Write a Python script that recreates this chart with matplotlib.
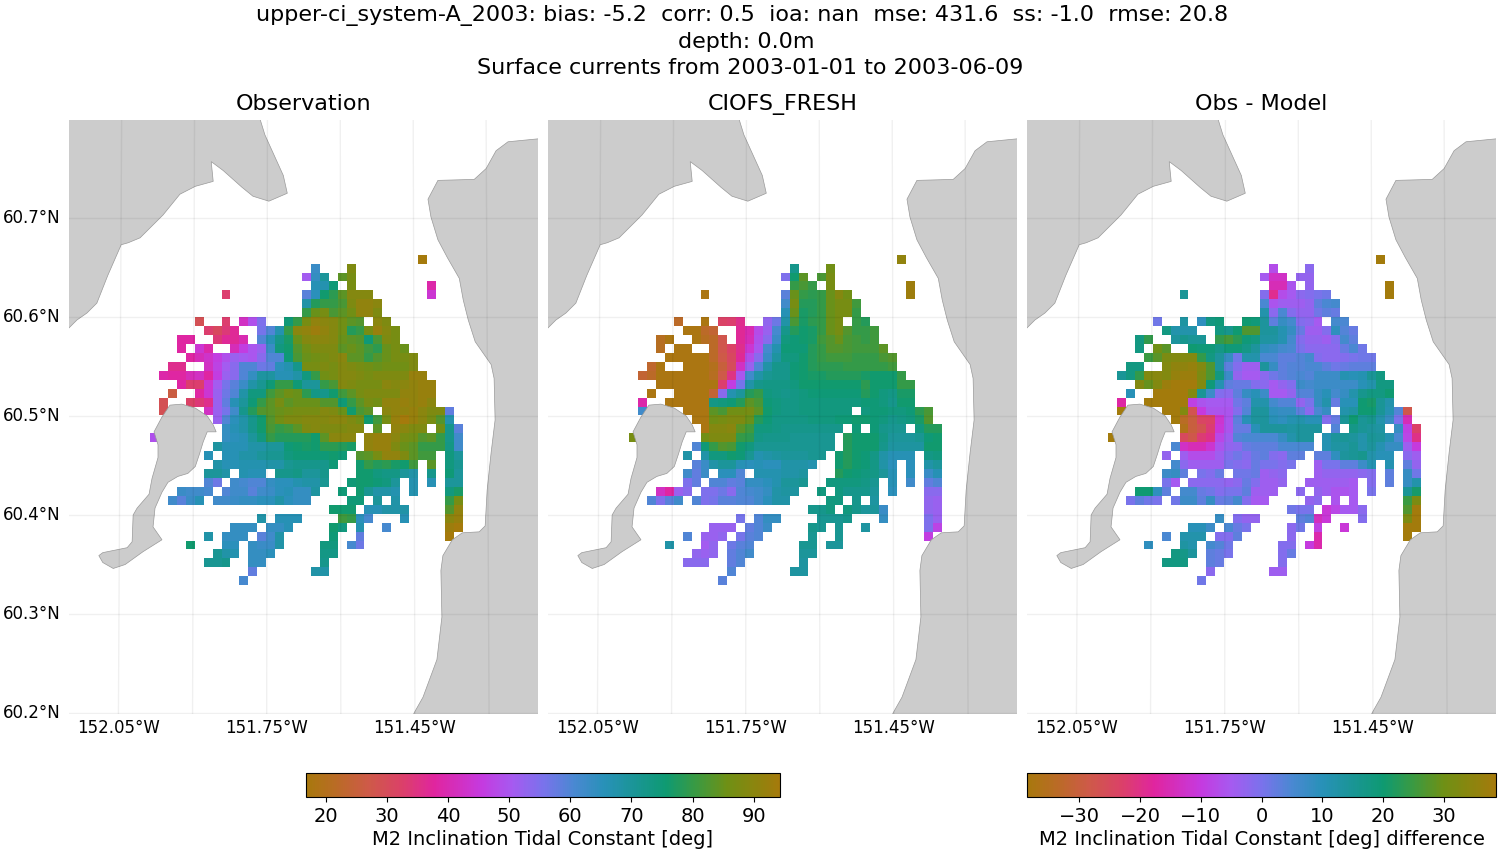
import numpy as np
import matplotlib
matplotlib.use("Agg")
import matplotlib.pyplot as plt
from matplotlib.colors import LinearSegmentedColormap
from matplotlib.patches import Polygon

# cell values per grid row, {column: value}
obs_rows = [
    {30: 94},
    {18: 63, 22: 88},
    {17: 51, 18: 64, 19: 70, 21: 84, 22: 87},
    {18: 66, 19: 67, 20: 75, 22: 87, 31: 39},
    {8: 33, 17: 59, 18: 65, 19: 76, 20: 79, 21: 84, 22: 89, 23: 89, 24: 89, 31: 44},
    {17: 68, 18: 78, 19: 80, 20: 80, 21: 82, 22: 88, 23: 91, 24: 91, 25: 90},
    {17: 80, 18: 85, 19: 87, 20: 82, 21: 84, 22: 86, 23: 91, 24: 91, 25: 88},
    {5: 29, 8: 33, 10: 42, 11: 49, 12: 55, 15: 75, 16: 80, 17: 87, 18: 91, 19: 90, 20: 89, 21: 86, 22: 84, 23: 83, 25: 90, 26: 88},
    {6: 33, 7: 31, 8: 34, 9: 37, 12: 56, 13: 60, 14: 67, 15: 80, 16: 90, 17: 91, 18: 93, 19: 91, 20: 89, 21: 86, 22: 78, 23: 80, 24: 87, 25: 92, 26: 89, 27: 87},
    {3: 38, 4: 38, 7: 34, 8: 37, 9: 37, 10: 40, 12: 60, 13: 66, 14: 72, 15: 77, 16: 85, 17: 89, 18: 90, 19: 90, 20: 89, 21: 85, 22: 84, 23: 83, 24: 75, 25: 82, 26: 88, 27: 87},
    {3: 38, 5: 44, 6: 39, 9: 41, 10: 46, 11: 50, 12: 52, 13: 63, 14: 74, 15: 76, 16: 83, 17: 86, 18: 88, 19: 88, 20: 88, 21: 84, 22: 85, 23: 84, 24: 81, 25: 79, 26: 85, 27: 87, 28: 85},
    {4: 38, 5: 41, 6: 43, 7: 46, 8: 49, 9: 52, 10: 51, 11: 50, 12: 54, 13: 60, 14: 60, 15: 75, 16: 82, 17: 85, 18: 86, 19: 87, 20: 88, 21: 90, 22: 84, 23: 84, 24: 80, 25: 83, 26: 85, 27: 87, 28: 87, 29: 88},
    {2: 36, 3: 36, 6: 42, 7: 47, 8: 51, 9: 54, 10: 60, 11: 60, 12: 57, 13: 58, 14: 65, 15: 67, 16: 72, 17: 87, 18: 87, 19: 88, 20: 87, 21: 89, 22: 88, 23: 87, 24: 86, 25: 85, 26: 86, 27: 86, 28: 86, 29: 88},
    {1: 39, 2: 38, 3: 38, 4: 41, 5: 42, 6: 38, 7: 46, 8: 52, 9: 54, 10: 60, 11: 64, 12: 69, 13: 69, 14: 66, 15: 66, 16: 68, 17: 74, 18: 80, 19: 86, 20: 87, 21: 89, 22: 89, 23: 88, 24: 87, 25: 88, 26: 88, 27: 88, 28: 88, 29: 92, 30: 92},
    {3: 38, 4: 33, 5: 33, 6: 44, 7: 51, 8: 56, 9: 59, 10: 63, 11: 68, 12: 71, 13: 75, 14: 80, 15: 80, 16: 75, 17: 70, 18: 70, 19: 80, 20: 82, 21: 89, 22: 88, 23: 87, 24: 87, 25: 87, 26: 90, 27: 89, 28: 90, 29: 91, 30: 92, 31: 92},
    {2: 26, 5: 38, 6: 44, 7: 52, 8: 57, 9: 60, 10: 68, 11: 74, 12: 74, 13: 81, 14: 84, 15: 86, 16: 85, 17: 79, 18: 73, 19: 72, 20: 76, 21: 81, 22: 84, 23: 87, 24: 88, 25: 88, 26: 88, 27: 88, 28: 91, 29: 91, 30: 92, 31: 92},
    {1: 29, 4: 32, 5: 34, 6: 36, 7: 52, 8: 58, 9: 66, 10: 70, 11: 75, 12: 80, 13: 84, 14: 87, 15: 84, 16: 85, 17: 85, 18: 85, 19: 83, 20: 83, 21: 75, 22: 80, 23: 84, 24: 87, 25: 86, 26: 91, 27: 91, 28: 92, 29: 91, 30: 92, 31: 90},
    {1: 29, 6: 42, 7: 52, 8: 56, 9: 62, 10: 72, 11: 78, 12: 83, 13: 84, 14: 85, 15: 86, 16: 87, 17: 87, 18: 87, 19: 89, 20: 88, 21: 85, 22: 76, 23: 82, 24: 84, 26: 90, 27: 91, 28: 91, 29: 92, 30: 90, 31: 88, 32: 88, 33: 58},
    {7: 52, 8: 60, 9: 65, 10: 68, 11: 72, 12: 76, 13: 83, 14: 86, 15: 88, 16: 88, 17: 89, 18: 89, 19: 89, 20: 90, 21: 90, 22: 88, 23: 86, 24: 76, 25: 81, 26: 87, 27: 92, 28: 94, 29: 92, 30: 90, 31: 87, 32: 83, 33: 67},
    {8: 64, 9: 66, 10: 68, 11: 72, 12: 76, 13: 82, 14: 80, 15: 81, 16: 84, 17: 88, 18: 89, 19: 88, 20: 88, 21: 88, 22: 89, 23: 89, 25: 84, 27: 91, 28: 90, 29: 88, 30: 88, 32: 86, 33: 72, 34: 59},
    {0: 49, 8: 64, 9: 65, 10: 66, 11: 70, 12: 74, 13: 80, 14: 78, 15: 78, 16: 78, 17: 78, 18: 76, 19: 84, 20: 90, 21: 90, 22: 90, 24: 91, 25: 92, 26: 92, 27: 90, 28: 87, 29: 86, 30: 83, 31: 84, 32: 80, 33: 72, 34: 62},
    {7: 69, 8: 66, 9: 66, 10: 66, 11: 68, 12: 68, 13: 70, 14: 70, 15: 75, 16: 76, 17: 77, 18: 76, 19: 79, 20: 79, 21: 78, 22: 77, 24: 91, 25: 92, 26: 92, 27: 88, 28: 85, 29: 84, 30: 80, 31: 80, 32: 80, 33: 73, 34: 62},
    {6: 66, 8: 66, 9: 66, 10: 68, 11: 68, 12: 70, 13: 71, 14: 71, 15: 74, 16: 75, 17: 75, 18: 75, 19: 75, 20: 76, 21: 75, 23: 83, 24: 84, 25: 87, 26: 91, 27: 91, 28: 88, 29: 84, 30: 81, 31: 81, 33: 74, 34: 70},
    {7: 68, 8: 66, 9: 66, 10: 67, 11: 67, 12: 67, 13: 68, 14: 68, 15: 71, 16: 72, 17: 72, 18: 72, 19: 72, 20: 75, 23: 76, 24: 80, 25: 78, 26: 79, 27: 77, 28: 76, 29: 81, 31: 84, 33: 74, 34: 71},
    {6: 70, 7: 70, 8: 68, 10: 67, 11: 66, 12: 66, 14: 72, 15: 72, 16: 73, 17: 70, 18: 70, 19: 72, 23: 76, 24: 76, 25: 74, 26: 73, 27: 73, 28: 70, 29: 68, 31: 72, 33: 75, 34: 70},
    {6: 60, 7: 57, 9: 62, 10: 61, 11: 60, 12: 60, 13: 64, 14: 65, 15: 65, 16: 67, 17: 68, 18: 68, 19: 71, 22: 75, 23: 76, 24: 76, 25: 75, 26: 74, 27: 70, 29: 67, 31: 66, 33: 70, 34: 70},
    {3: 63, 4: 62, 5: 62, 6: 61, 8: 60, 9: 62, 10: 62, 11: 59, 12: 62, 13: 63, 14: 65, 15: 66, 16: 64, 17: 64, 18: 69, 21: 75, 23: 76, 24: 71, 25: 68, 26: 68, 27: 67, 29: 67, 33: 74, 34: 77},
    {2: 62, 3: 59, 4: 63, 5: 66, 7: 62, 8: 62, 9: 63, 10: 64, 11: 64, 12: 65, 13: 65, 14: 68, 15: 65, 16: 64, 17: 64, 22: 75, 23: 75, 25: 70, 27: 68, 33: 80, 34: 87},
    {20: 76, 21: 76, 22: 76, 24: 66, 25: 66, 26: 68, 27: 68, 28: 68, 33: 83, 34: 91},
    {12: 68, 14: 66, 15: 66, 16: 66, 21: 81, 22: 80, 23: 65, 24: 61, 28: 66, 33: 90, 34: 92},
    {9: 64, 10: 64, 11: 64, 13: 64, 14: 64, 15: 66, 20: 76, 21: 74, 23: 67, 26: 61, 33: 93, 34: 94},
    {6: 68, 8: 64, 9: 64, 10: 64, 12: 59, 13: 62, 14: 68, 20: 75, 23: 58, 33: 94},
    {4: 76, 8: 65, 9: 65, 11: 64, 12: 63, 13: 63, 14: 68, 19: 74, 20: 74, 22: 61, 23: 57},
    {7: 71, 8: 68, 9: 67, 11: 64, 12: 64, 13: 65, 19: 73, 20: 73},
    {6: 71, 7: 71, 8: 72, 11: 64, 12: 64, 19: 72},
    {11: 58, 18: 68, 19: 68},
    {10: 61},
]

model_rows = [
    {30: 91},
    {18: 72, 22: 86},
    {17: 55, 18: 76, 19: 84, 21: 82, 22: 87},
    {18: 80, 19: 82, 20: 80, 22: 87, 31: 93},
    {8: 18, 17: 59, 18: 85, 19: 80, 20: 79, 21: 80, 22: 85, 23: 89, 24: 86, 31: 93},
    {17: 62, 18: 87, 19: 78, 20: 78, 21: 80, 22: 85, 23: 87, 24: 87, 25: 81},
    {17: 66, 18: 85, 19: 77, 20: 78, 21: 80, 22: 85, 23: 87, 24: 87, 25: 80},
    {5: 22, 8: 18, 10: 32, 11: 33, 12: 36, 15: 53, 16: 57, 17: 68, 18: 82, 19: 77, 20: 79, 21: 80, 22: 85, 23: 87, 25: 80, 26: 78},
    {6: 18, 7: 18, 8: 22, 9: 24, 12: 37, 13: 40, 14: 48, 15: 52, 16: 61, 17: 72, 18: 78, 19: 76, 20: 77, 21: 80, 22: 85, 23: 87, 24: 83, 25: 80, 26: 80, 27: 81},
    {3: 21, 4: 18, 7: 18, 8: 21, 9: 22, 10: 28, 12: 37, 13: 41, 14: 49, 15: 54, 16: 63, 17: 74, 18: 75, 19: 76, 20: 77, 21: 81, 22: 83, 23: 85, 24: 82, 25: 81, 26: 80, 27: 81},
    {3: 21, 5: 18, 6: 18, 9: 22, 10: 28, 11: 32, 12: 36, 13: 44, 14: 50, 15: 61, 16: 67, 17: 75, 18: 75, 19: 75, 20: 78, 21: 80, 22: 83, 23: 83, 24: 82, 25: 81, 26: 81, 27: 81, 28: 84},
    {4: 18, 5: 18, 6: 18, 7: 18, 8: 18, 9: 22, 10: 27, 11: 31, 12: 37, 13: 48, 14: 54, 15: 63, 16: 69, 17: 74, 18: 74, 19: 76, 20: 78, 21: 80, 22: 81, 23: 81, 24: 81, 25: 80, 26: 80, 27: 80, 28: 82, 29: 83},
    {2: 23, 3: 18, 6: 18, 7: 18, 8: 18, 9: 20, 10: 25, 11: 30, 12: 42, 13: 52, 14: 60, 15: 68, 16: 72, 17: 72, 18: 75, 19: 76, 20: 78, 21: 79, 22: 79, 23: 79, 24: 80, 25: 80, 26: 80, 27: 80, 28: 80, 29: 81},
    {1: 24, 2: 22, 3: 18, 4: 18, 5: 18, 6: 18, 7: 18, 8: 18, 9: 21, 10: 27, 11: 35, 12: 50, 13: 62, 14: 68, 15: 71, 16: 72, 17: 72, 18: 75, 19: 76, 20: 77, 21: 77, 22: 78, 23: 78, 24: 78, 25: 78, 26: 77, 27: 76, 28: 76, 29: 76, 30: 80},
    {3: 18, 4: 18, 5: 18, 6: 18, 7: 18, 8: 18, 9: 18, 10: 33, 11: 46, 12: 56, 13: 68, 14: 72, 15: 73, 16: 73, 17: 73, 18: 74, 19: 76, 20: 76, 21: 76, 22: 76, 23: 76, 24: 76, 25: 76, 26: 79, 27: 76, 28: 76, 29: 76, 30: 80, 31: 80},
    {2: 18, 5: 18, 6: 18, 7: 18, 8: 18, 9: 24, 10: 54, 11: 67, 12: 70, 13: 78, 14: 80, 15: 74, 16: 73, 17: 72, 18: 73, 19: 74, 20: 75, 21: 75, 22: 75, 23: 75, 24: 75, 25: 75, 26: 78, 27: 76, 28: 74, 29: 73, 30: 77, 31: 77},
    {1: 39, 4: 18, 5: 18, 6: 18, 7: 18, 8: 18, 9: 73, 10: 74, 11: 75, 12: 78, 13: 84, 14: 82, 15: 75, 16: 74, 17: 73, 18: 73, 19: 74, 20: 74, 21: 74, 22: 74, 23: 74, 24: 74, 25: 74, 26: 75, 27: 75, 28: 74, 29: 72, 30: 76, 31: 76},
    {1: 62, 6: 18, 7: 18, 8: 18, 9: 84, 10: 82, 11: 86, 12: 86, 13: 87, 14: 84, 15: 76, 16: 74, 17: 73, 18: 73, 19: 74, 20: 74, 21: 74, 22: 74, 23: 74, 24: 74, 26: 74, 27: 75, 28: 75, 29: 74, 30: 74, 31: 75, 32: 79, 33: 82},
    {7: 18, 8: 18, 9: 86, 10: 87, 11: 88, 12: 88, 13: 85, 14: 78, 15: 75, 16: 73, 17: 73, 18: 73, 19: 73, 20: 74, 21: 74, 22: 74, 23: 75, 24: 75, 25: 76, 26: 76, 27: 75, 28: 74, 29: 72, 30: 73, 31: 74, 32: 77, 33: 83},
    {8: 18, 9: 89, 10: 89, 11: 90, 12: 84, 13: 81, 14: 74, 15: 74, 16: 73, 17: 72, 18: 72, 19: 72, 20: 72, 21: 72, 22: 72, 23: 72, 25: 75, 27: 75, 28: 72, 29: 71, 30: 71, 32: 74, 33: 78, 34: 78},
    {0: 87, 8: 86, 9: 88, 10: 88, 11: 88, 12: 80, 13: 79, 14: 73, 15: 72, 16: 72, 17: 72, 18: 71, 19: 71, 20: 71, 21: 71, 22: 71, 24: 78, 25: 76, 26: 76, 27: 76, 28: 73, 29: 70, 30: 70, 31: 70, 32: 71, 33: 75, 34: 76},
    {7: 60, 8: 75, 9: 80, 10: 83, 11: 82, 12: 76, 13: 74, 14: 71, 15: 71, 16: 71, 17: 71, 18: 71, 19: 71, 20: 71, 21: 71, 22: 71, 24: 78, 25: 76, 26: 76, 27: 76, 28: 72, 29: 69, 30: 69, 31: 69, 32: 69, 33: 76, 34: 76},
    {6: 68, 8: 68, 9: 74, 10: 74, 11: 76, 12: 75, 13: 71, 14: 67, 15: 68, 16: 69, 17: 70, 18: 70, 19: 70, 20: 71, 21: 71, 23: 76, 24: 78, 25: 76, 26: 75, 27: 73, 28: 68, 29: 66, 30: 66, 31: 66, 33: 73, 34: 74},
    {7: 59, 8: 63, 9: 68, 10: 70, 11: 70, 12: 66, 13: 65, 14: 66, 15: 65, 16: 65, 17: 68, 18: 68, 19: 68, 20: 67, 23: 76, 24: 78, 25: 76, 26: 75, 27: 73, 28: 68, 29: 65, 31: 65, 33: 68, 34: 70},
    {6: 62, 7: 58, 8: 63, 10: 65, 11: 65, 12: 60, 14: 67, 15: 67, 16: 67, 17: 68, 18: 68, 19: 69, 23: 78, 24: 76, 25: 75, 26: 74, 27: 73, 28: 70, 29: 66, 31: 65, 33: 63, 34: 66},
    {6: 55, 7: 58, 9: 60, 10: 60, 11: 58, 12: 59, 13: 64, 14: 64, 15: 65, 16: 67, 17: 70, 18: 70, 19: 71, 22: 74, 23: 74, 24: 74, 25: 74, 26: 73, 27: 71, 29: 66, 31: 62, 33: 58, 34: 60},
    {3: 42, 4: 38, 5: 52, 6: 54, 8: 55, 9: 55, 10: 57, 11: 54, 12: 60, 13: 61, 14: 62, 15: 64, 16: 68, 17: 69, 18: 69, 21: 74, 23: 74, 24: 72, 25: 72, 26: 72, 27: 70, 29: 65, 33: 54, 34: 54},
    {2: 60, 3: 55, 4: 59, 5: 62, 7: 60, 8: 55, 9: 56, 10: 59, 11: 59, 12: 60, 13: 60, 14: 62, 15: 65, 16: 68, 17: 68, 22: 74, 23: 74, 25: 72, 27: 69, 33: 53, 34: 52},
    {20: 72, 21: 72, 22: 74, 24: 74, 25: 72, 26: 70, 27: 70, 28: 63, 33: 53, 34: 52},
    {12: 56, 14: 60, 15: 64, 16: 64, 21: 71, 22: 71, 23: 71, 24: 72, 28: 64, 33: 55, 34: 52},
    {9: 52, 10: 52, 11: 52, 13: 58, 14: 60, 15: 63, 20: 72, 21: 71, 23: 71, 26: 69, 33: 55, 34: 47},
    {6: 60, 8: 52, 9: 52, 10: 53, 12: 56, 13: 59, 14: 60, 20: 71, 23: 71, 33: 46},
    {4: 68, 8: 51, 9: 53, 11: 57, 12: 59, 13: 60, 19: 71, 20: 71, 22: 70, 23: 70},
    {7: 53, 8: 52, 9: 53, 11: 58, 12: 60, 13: 62, 19: 70, 20: 70},
    {6: 54, 7: 54, 8: 54, 11: 58, 12: 60, 19: 69},
    {11: 60, 18: 69, 19: 69},
    {10: 59},
]

diff_rows = [
    {30: 38},
    {18: -7, 22: -2},
    {17: -5, 18: -13, 19: -13, 21: -3, 22: -3},
    {18: -15, 19: -15, 20: -6, 22: -3, 31: 38},
    {8: 15, 17: -1, 18: -19, 19: -7, 20: -5, 21: -2, 22: -1, 23: 0, 24: 1, 31: 38},
    {17: 5, 18: -6, 19: -4, 20: -4, 21: -4, 22: -3, 23: 3, 24: 5, 25: 6},
    {17: 12, 18: -2, 19: 5, 20: -1, 21: -3, 22: -3, 23: 1, 24: 3, 25: 2},
    {5: 1, 8: 13, 10: 9, 11: 18, 12: 19, 15: 20, 16: 19, 17: 14, 18: 3, 19: 8, 20: 6, 21: -1, 22: -2, 23: -5, 25: 6, 26: 5},
    {6: 18, 7: 12, 8: 12, 9: 12, 12: 18, 13: 16, 14: 20, 15: 27, 16: 27, 17: 14, 18: 14, 19: 11, 20: 8, 21: 2, 22: -4, 23: -4, 24: -1, 25: 9, 26: 4, 27: 2},
    {3: 18, 4: 24, 7: 14, 8: 16, 9: 15, 10: 15, 12: 24, 13: 26, 14: 23, 15: 19, 16: 18, 17: 13, 18: 13, 19: 11, 20: 6, 21: -1, 22: -3, 23: -3, 24: -4, 25: -1, 26: 6, 27: 3},
    {3: 18, 5: 30, 6: 28, 9: 20, 10: 19, 11: 19, 12: 17, 13: 19, 14: 19, 15: 17, 16: 14, 17: 9, 18: 8, 19: 6, 20: 5, 21: 0, 22: -2, 23: -2, 24: -2, 25: -2, 26: 2, 27: 5, 28: 1},
    {4: 25, 5: 28, 6: 32, 7: 33, 8: 33, 9: 33, 10: 24, 11: 18, 12: 14, 13: 8, 14: 1, 15: 12, 16: 12, 17: 5, 18: 5, 19: 3, 20: 3, 21: 4, 22: 6, 23: -1, 24: -2, 25: -2, 26: -1, 27: 0, 28: 1, 29: 1},
    {2: 18, 3: 18, 6: 33, 7: 35, 8: 35, 9: 36, 10: 33, 11: 27, 12: 14, 13: 3, 14: -1, 15: -4, 16: -4, 17: 14, 18: 8, 19: 3, 20: 4, 21: 4, 22: 5, 23: 5, 24: 3, 25: 1, 26: 2, 27: 3, 28: 3, 29: 3},
    {1: 15, 2: 18, 3: 24, 4: 33, 5: 34, 6: 33, 7: 36, 8: 37, 9: 37, 10: 32, 11: 27, 12: 18, 13: 7, 14: -3, 15: -5, 16: -5, 17: -2, 18: 1, 19: 3, 20: 4, 21: 5, 22: 4, 23: 7, 24: 7, 25: 7, 26: 11, 27: 10, 28: 11, 29: 15, 30: 18},
    {3: 33, 4: 29, 5: 33, 6: 37, 7: 38, 8: 38, 9: 38, 10: 33, 11: 19, 12: 11, 13: 3, 14: 2, 15: 2, 16: -1, 17: -2, 18: -5, 19: -3, 20: -1, 21: 7, 22: 6, 23: 7, 24: 7, 25: 7, 26: 7, 27: 7, 28: 10, 29: 12, 30: 18, 31: 18},
    {2: 10, 5: 38, 6: 38, 7: 38, 8: 38, 9: 33, 10: 15, 11: 7, 12: -1, 13: -2, 14: 3, 15: 8, 16: 10, 17: 7, 18: -5, 19: -5, 20: -3, 21: 4, 22: 4, 23: 8, 24: 10, 25: 6, 26: 8, 27: 12, 28: 16, 29: 18, 30: 18, 31: 20},
    {1: -17, 4: 38, 5: 38, 6: 38, 7: 38, 8: 38, 9: -9, 10: -6, 11: -5, 12: -5, 13: -5, 14: 1, 15: 3, 16: 12, 17: 12, 18: 6, 19: 4, 20: 4, 21: -3, 22: 0, 23: 8, 24: 12, 25: 2, 26: 10, 27: 10, 28: 20, 29: 21, 30: 15, 31: 12},
    {1: 38, 6: 38, 7: 38, 8: 33, 9: -27, 10: -10, 11: -6, 12: -6, 13: -6, 14: -1, 15: 4, 16: 14, 17: 14, 18: 9, 19: 8, 20: 8, 21: 3, 22: -2, 23: 5, 24: 8, 26: 12, 27: 13, 28: 20, 29: 20, 30: 15, 31: 11, 32: 4, 33: -28},
    {7: 38, 8: -34, 9: -30, 10: -24, 11: -23, 12: -12, 13: -6, 14: 3, 15: 10, 16: 14, 17: 14, 18: 10, 19: 9, 20: 11, 21: 12, 22: 10, 23: 10, 24: -1, 25: 2, 26: 15, 27: 20, 28: 15, 29: 16, 30: 12, 31: 8, 32: 0, 33: -15},
    {8: -36, 9: -30, 10: -27, 11: -22, 12: -11, 13: -6, 14: 2, 15: 2, 16: 10, 17: 14, 18: 14, 19: 14, 20: 13, 21: 14, 22: 14, 23: 14, 25: 4, 27: 17, 28: 15, 29: 14, 30: 13, 32: 8, 33: -9, 34: -23},
    {0: 38, 8: -25, 9: -28, 10: -22, 11: -20, 12: -8, 13: -4, 14: 4, 15: 5, 16: 5, 17: 5, 18: 5, 19: 8, 20: 12, 21: 14, 22: 14, 24: 11, 25: 14, 26: 15, 27: 14, 28: 12, 29: 15, 30: 14, 31: 11, 32: 5, 33: -8, 34: -20},
    {7: 5, 8: -13, 9: -15, 10: -15, 11: -12, 12: -6, 13: -3, 14: -2, 15: 2, 16: 3, 17: 3, 18: 3, 19: 5, 20: 5, 21: 5, 22: 5, 24: 11, 25: 13, 26: 13, 27: 15, 28: 12, 29: 14, 30: 11, 31: 8, 32: 8, 33: -4, 34: -10},
    {6: -3, 8: -4, 9: -7, 10: -7, 11: -7, 12: -4, 13: -1, 14: 1, 15: -1, 16: 2, 17: 3, 18: -1, 19: -2, 20: 3, 21: 3, 23: 3, 24: 3, 25: 9, 26: 14, 27: 15, 28: 16, 29: 12, 30: 10, 31: 10, 33: -2, 34: -4},
    {7: 6, 8: -2, 9: -4, 10: -4, 11: -4, 12: -4, 13: 0, 14: -1, 15: -2, 16: 2, 17: 0, 18: 0, 19: -1, 20: 0, 23: -4, 24: 0, 25: 0, 26: 3, 27: 3, 28: 7, 29: 11, 31: 11, 33: 3, 34: -3},
    {6: 7, 7: 8, 8: 3, 10: 0, 11: -1, 12: 2, 14: 1, 15: 1, 16: 2, 17: -4, 18: -3, 19: -2, 23: -4, 24: -3, 25: -3, 26: -3, 27: -3, 28: -2, 29: -1, 31: 3, 33: 8, 34: 1},
    {6: 0, 7: -5, 9: -2, 10: -2, 11: -2, 12: -2, 13: -3, 14: -2, 15: 2, 16: -1, 17: -4, 18: -4, 19: -3, 22: -4, 23: -4, 24: -4, 25: -4, 26: -4, 27: -5, 29: -1, 31: 3, 33: 8, 34: 12},
    {3: 20, 4: 20, 5: 9, 6: 3, 8: 6, 9: 6, 10: 2, 11: 1, 12: -1, 13: 0, 14: 0, 15: 3, 16: -4, 17: -4, 18: -4, 21: -2, 23: -3, 24: -4, 25: -6, 26: -6, 27: -5, 29: 0, 33: 15, 34: 21},
    {2: 0, 3: 3, 4: 1, 5: 0, 7: 1, 8: 7, 9: 7, 10: 3, 11: 8, 12: 2, 13: 3, 14: 6, 15: -1, 16: -5, 17: -5, 22: -3, 23: -2, 25: -6, 27: -5, 33: 25, 34: 32},
    {20: 1, 21: 0, 22: 0, 24: -11, 25: -8, 26: -5, 27: -5, 28: -2, 33: 27, 34: 38},
    {12: 8, 14: -1, 15: -3, 16: -3, 21: 3, 22: 4, 23: -14, 24: -11, 28: -1, 33: 32, 34: 38},
    {9: 10, 10: 10, 11: 7, 13: 5, 14: 2, 15: 0, 20: -2, 21: 1, 23: -9, 26: -11, 33: 38, 34: 38},
    {6: 5, 8: 12, 9: 12, 10: 12, 12: -1, 13: -1, 14: 3, 20: -2, 23: -16, 33: 38},
    {4: 9, 8: 13, 9: 12, 11: 6, 12: 4, 13: 1, 19: -1, 20: -1, 22: -10, 23: -16},
    {7: 18, 8: 17, 9: 14, 11: 3, 12: 2, 13: 0, 19: -1, 20: 2},
    {6: 18, 7: 18, 8: 18, 11: 3, 12: 2, 19: -1},
    {11: -2, 18: -4, 19: -4},
    {10: 1},
]

# coastline outlines, lon/lat
nw_lon = [-152.17, -151.775, -151.759, -151.722, -151.714, -151.751, -151.783, -151.805, -151.843, -151.867, -151.863,
          -151.899, -151.930, -151.964, -152.010, -152.034, -152.048, -152.075, -152.097, -152.117, -152.137, -152.153, -152.17]
nw_lat = [60.81, 60.81, 60.784, 60.743, 60.725, 60.717, 60.722, 60.731, 60.748, 60.757, 60.737,
          60.732, 60.724, 60.703, 60.680, 60.675, 60.673, 60.642, 60.614, 60.604, 60.597, 60.589, 60.58]
kalgin_lon = [-151.950, -151.926, -151.899, -151.875, -151.863, -151.857, -151.875, -151.883, -151.891, -151.899, -151.914,
              -151.934, -151.954, -151.966, -151.980, -151.984, -151.966, -152.004, -152.040, -152.064, -152.085, -152.093,
              -152.085, -152.036, -152.026, -152.024, -152.016, -151.992, -151.986, -151.974, -151.974, -151.982, -151.966]
kalgin_lat = [60.511, 60.512, 60.508, 60.500, 60.491, 60.484, 60.484, 60.474, 60.461, 60.449, 60.442,
              60.439, 60.433, 60.423, 60.407, 60.388, 60.375, 60.363, 60.350, 60.346, 60.352, 60.359,
              60.362, 60.367, 60.373, 60.400, 60.407, 60.421, 60.437, 60.458, 60.471, 60.484, 60.499]
east_lon = [-151.20, -151.209, -151.270, -151.294, -151.314, -151.338, -151.411, -151.431, -151.425, -151.411, -151.392,
            -151.368, -151.360, -151.350, -151.336, -151.304, -151.298, -151.296, -151.304, -151.312, -151.316, -151.328,
            -151.362, -151.382, -151.401, -151.405, -151.403, -151.413, -151.441, -151.459, -151.465, -151.20]
east_lat = [60.78, 60.780, 60.777, 60.768, 60.750, 60.739, 60.738, 60.719, 60.701, 60.678, 60.660,
            60.639, 60.617, 60.597, 60.575, 60.552, 60.538, 60.496, 60.463, 60.425, 60.389, 60.383,
            60.382, 60.375, 60.359, 60.344, 60.297, 60.254, 60.216, 60.200, 60.19, 60.19]

suptitle_lines = [
    "upper-ci_system-A_2003: bias: -5.2  corr: 0.5  ioa: nan  mse: 431.6  ss: -1.0  rmse: 20.8",
    "depth: 0.0m",
    "Surface currents from 2003-01-01 to 2003-06-09",
]
titles = ["Observation", "CIOFS_FRESH", "Obs - Model"]
lat_ticks = [60.2, 60.3, 60.4, 60.5, 60.6, 60.7]
lon_ticks = [-152.05, -151.75, -151.45]
lon_grid = [-152.05, -151.9, -151.75, -151.6, -151.45, -151.3]
cbar_ticks = [20, 30, 40, 50, 60, 70, 80, 90]
diff_ticks = [-30, -20, -10, 0, 10, 20, 30]

# rough copy of the cyclic "phase" colormap
phase_stops = [
    (0.00, "#A8780D"), (0.06, "#B96C25"), (0.13, "#CE5A48"), (0.20, "#DB4168"),
    (0.27, "#E0259F"), (0.37, "#C53ADF"), (0.435, "#A65AF0"), (0.50, "#7A72EC"),
    (0.565, "#4A88D2"), (0.63, "#2891B8"), (0.694, "#1A9596"), (0.76, "#0E9A72"),
    (0.824, "#3A9A42"), (0.89, "#6F9015"), (0.95, "#8C850E"), (1.00, "#A57A0C"),
]
phase = LinearSegmentedColormap.from_list("phase_like", phase_stops, N=256)

XLIM = (-152.150, -151.201)
YLIM = (60.199, 60.799)
LON0, DLON = -151.986, 0.01808
LAT0, DLAT = 60.663, 0.009024
NROWS, NCOLS = 37, 35


def to_grid(rows):
    grid = np.full((NROWS, NCOLS), np.nan)
    for r, row in enumerate(rows):
        for c, v in row.items():
            grid[r, c] = v
    return np.ma.masked_invalid(grid)


def draw_panel(ax, rows, title, vmin, vmax, show_lat):
    lon_edges = LON0 + DLON * np.arange(NCOLS + 1)
    lat_edges = LAT0 - DLAT * np.arange(NROWS + 1)
    mesh = ax.pcolormesh(lon_edges, lat_edges, to_grid(rows), cmap=phase,
                         vmin=vmin, vmax=vmax, zorder=2)

    for lon_pts, lat_pts in [(nw_lon, nw_lat), (kalgin_lon, kalgin_lat), (east_lon, east_lat)]:
        # coast was read with a slightly different lon scale
        lon_fixed = (np.array(lon_pts) + 152.153) * 497 / 494 - 152.150
        ax.add_patch(Polygon(np.column_stack([lon_fixed, lat_pts]), closed=True,
                             facecolor="0.8", edgecolor="0.6", linewidth=0.5, zorder=3))

    # meridians lean a little, as in the original map projection
    for lon in lon_grid:
        lean = 0.0065 - (lon + 152.05) * 0.0167
        ax.plot([lon, lon + lean], YLIM, color="k", alpha=0.06, lw=1, zorder=4)
    for lat in lat_ticks:
        ax.plot(XLIM, [lat, lat], color="k", alpha=0.06, lw=1, zorder=4)

    ax.set_xlim(XLIM)
    ax.set_ylim(YLIM)
    ax.set_xticks(lon_ticks)
    ax.set_xticklabels([f"{abs(lon):.2f}°W" for lon in lon_ticks], fontsize=12)
    if show_lat:
        ax.set_yticks(lat_ticks)
        ax.set_yticklabels([f"{lat:.1f}°N" for lat in lat_ticks], fontsize=12, va="center")
    else:
        ax.set_yticks([])
    ax.tick_params(axis="x", length=0, pad=3.5)
    ax.tick_params(axis="y", length=0, pad=6)
    for spine in ax.spines.values():
        spine.set_visible(False)
    ax.set_title(title, fontsize=16, pad=7.5)
    return mesh


fig = plt.figure(figsize=(15, 8.5), dpi=100)
W, H = 1500.0, 850.0

panel_lefts = [69, 548, 1027]
meshes = []
for i, left in enumerate(panel_lefts):
    ax = fig.add_axes([left / W, (H - 714) / H, 469 / W, 594 / H])
    if i == 0:
        m = draw_panel(ax, obs_rows, titles[i], 16.8, 94.3, True)
    elif i == 1:
        m = draw_panel(ax, model_rows, titles[i], 16.8, 94.3, False)
    else:
        m = draw_panel(ax, diff_rows, titles[i], -38.6, 38.6, False)
    meshes.append(m)

cax1 = fig.add_axes([306 / W, (H - 797) / H, 474 / W, 24 / H])
cb1 = fig.colorbar(meshes[0], cax=cax1, orientation="horizontal", ticks=cbar_ticks)
cb1.ax.tick_params(labelsize=14)
cb1.set_label("M2 Inclination Tidal Constant [deg]", fontsize=14, labelpad=3)

cax2 = fig.add_axes([1027 / W, (H - 797) / H, 469 / W, 24 / H])
cb2 = fig.colorbar(meshes[2], cax=cax2, orientation="horizontal", ticks=diff_ticks)
cb2.ax.tick_params(labelsize=14)
cb2.set_label("M2 Inclination Tidal Constant [deg] difference", fontsize=14, labelpad=3)

# the three heading lines are not quite centred on each other in the original
for line, x_px, base_px in zip(suptitle_lines, [742, 746, 750.5], [21.5, 48, 74.5]):
    fig.text(x_px / W, 1 - base_px / H, line, ha="center", va="baseline", fontsize=16)

fig.savefig("out.png", dpi=100)
